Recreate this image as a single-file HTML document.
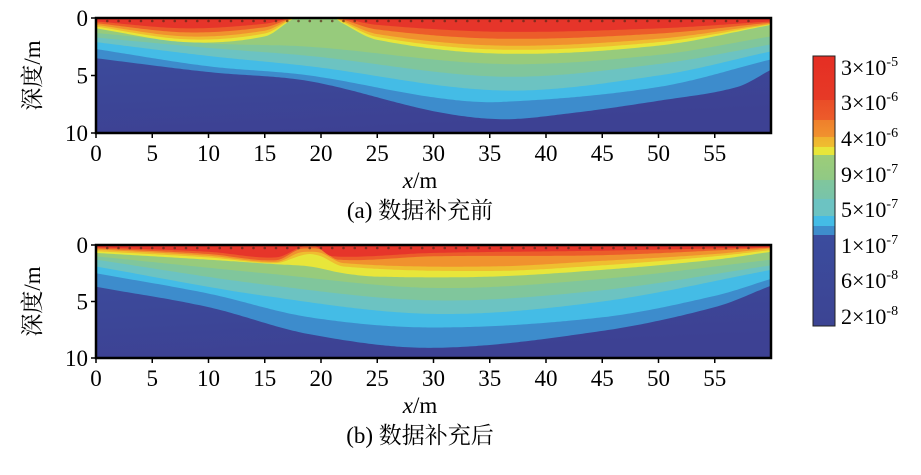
<!DOCTYPE html>
<html><head><meta charset="utf-8">
<style>
body{margin:0;background:#fff;width:921px;height:475px;overflow:hidden;}
svg{display:block}
text{font-family:"Liberation Serif","Noto Serif CJK SC",serif;fill:#000}
</style></head><body>
<svg id="s" width="921" height="475" xmlns="http://www.w3.org/2000/svg">
<defs>
<linearGradient id="cb" x1="0" y1="0" x2="0" y2="1">
<stop offset="0" stop-color="#e52e24"/><stop offset="0.163" stop-color="#e63a26"/>
<stop offset="0.163" stop-color="#ea4d28"/><stop offset="0.237" stop-color="#ec5c2a"/>
<stop offset="0.237" stop-color="#ef7f2c"/><stop offset="0.3" stop-color="#f0922e"/>
<stop offset="0.3" stop-color="#efb22f"/><stop offset="0.337" stop-color="#efbe30"/>
<stop offset="0.337" stop-color="#e8e63a"/><stop offset="0.367" stop-color="#e8e63a"/>
<stop offset="0.367" stop-color="#9dcd78"/><stop offset="0.46" stop-color="#90c985"/>
<stop offset="0.46" stop-color="#80c69c"/><stop offset="0.53" stop-color="#78c4aa"/>
<stop offset="0.53" stop-color="#6cc3c2"/><stop offset="0.593" stop-color="#6cc3c2"/>
<stop offset="0.593" stop-color="#44bce6"/><stop offset="0.63" stop-color="#44bce6"/>
<stop offset="0.63" stop-color="#3e8dcc"/><stop offset="0.663" stop-color="#3e8dcc"/>
<stop offset="0.663" stop-color="#3b4c9e"/><stop offset="1" stop-color="#3c4493"/>
</linearGradient>
<linearGradient id="bg" x1="0" y1="0" x2="0.3" y2="1">
<stop offset="0" stop-color="#3b4f9f"/><stop offset="1" stop-color="#3d4193"/>
</linearGradient>
</defs>
<g id="pa"></g><g id="pb"></g>
<rect x="813" y="56" width="22" height="270" fill="url(#cb)" stroke="#222" stroke-width="1"/>
<g font-size="22">
<text x="841" y="75">3×10<tspan font-size="14" dy="-9">-5</tspan></text>
<text x="841" y="110">3×10<tspan font-size="14" dy="-9">-6</tspan></text>
<text x="841" y="146">4×10<tspan font-size="14" dy="-9">-6</tspan></text>
<text x="841" y="182">9×10<tspan font-size="14" dy="-9">-7</tspan></text>
<text x="841" y="217">5×10<tspan font-size="14" dy="-9">-7</tspan></text>
<text x="841" y="253">1×10<tspan font-size="14" dy="-9">-7</tspan></text>
<text x="841" y="288">6×10<tspan font-size="14" dy="-9">-8</tspan></text>
<text x="841" y="324">2×10<tspan font-size="14" dy="-9">-8</tspan></text>
</g>
</svg>
<script>
var NS="http://www.w3.org/2000/svg";
function el(g,t,a,txt){var e=document.createElementNS(NS,t);for(var k in a)e.setAttribute(k,a[k]);if(txt!==undefined)e.textContent=txt;g.appendChild(e);return e;}
function interp(p,x){
 for(var i=0;i<p.length-1;i++){if(x<=p[i+1][0]){
  var P0=p[Math.max(0,i-1)],P1=p[i],P2=p[i+1],P3=p[Math.min(p.length-1,i+2)];
  var t=(x-P1[0])/(P2[0]-P1[0]);
  var m1=(P2[1]-P0[1])/(P2[0]-P0[0]||1)*(P2[0]-P1[0]);
  var m2=(P3[1]-P1[1])/(P3[0]-P1[0]||1)*(P2[0]-P1[0]);
  if(i==0)m1=P2[1]-P1[1]; if(i==p.length-2)m2=P2[1]-P1[1];
  var t2=t*t,t3=t2*t;
  return (2*t3-3*t2+1)*P1[1]+(t3-2*t2+t)*m1+(-2*t3+3*t2)*P2[1]+(t3-t2)*m2;}}
 return p[p.length-1][1];}
function plot(gid,y0,y1,bands,cap){
 var g=document.getElementById(gid),x0=96,x1=771;
 var sx=function(x){return x0+(x1-x0)*x/60},sy=function(d){return y0+(y1-y0)*d/10};
 el(g,'rect',{x:x0,y:y0,width:x1-x0,height:y1-y0,fill:'url(#bg)'});
 bands.forEach(function(b){
  var d='M'+x0+','+y0+' L'+x1+','+y0;
  for(var x=60;x>=0;x-=0.25){d+=' L'+sx(x).toFixed(1)+','+sy(Math.max(0,interp(b[1],x))).toFixed(1);}
  el(g,'path',{d:d+'Z',fill:b[0]});
 });
 for(var i=0;i<58;i++){var cx=sx(1+i*1);if(cx>x1-4)break;el(g,'circle',{cx:cx,cy:y0+3,r:1.3,fill:'#5a2a1a','fill-opacity':0.7});}
 el(g,'rect',{x:x0,y:y0,width:x1-x0,height:y1-y0,fill:'none',stroke:'#000','stroke-width':2.5});
 for(var v=0;v<=55;v+=5){var X=sx(v);el(g,'line',{x1:X,y1:y1,x2:X,y2:y1+5,stroke:'#000','stroke-width':1.5});el(g,'text',{x:X,y:y1+28,'font-size':23,'text-anchor':'middle'},String(v));}
 [0,5,10].forEach(function(v){var Y=sy(v);el(g,'line',{x1:x0-5,y1:Y,x2:x0,y2:Y,stroke:'#000','stroke-width':1.5});el(g,'text',{x:88,y:Y+8,'font-size':23,'text-anchor':'end'},String(v));});
 var t=el(g,'text',{x:0,y:0,'font-size':23,'text-anchor':'middle',transform:'translate(40,'+((y0+y1)/2)+') rotate(-90)'});t.textContent='深度/m';
 var xl=el(g,'text',{x:420,y:y1+55,'font-size':23,'text-anchor':'middle'});
 el(xl,'tspan',{'font-style':'italic'},'x');el(xl,'tspan',{},'/m');
 el(g,'text',{x:420,y:y1+85,'font-size':23,'text-anchor':'middle'},cap);
}
plot('pa',18,133,[
 ['#3d8ccc',[[0,3.5],[10,4.7],[19,5.5],[30,8.1],[36,8.8],[42,8.3],[50,7.2],[57,6.0],[60,4.5]]],
 ['#44bce6',[[0,2.7],[10,4.2],[19,5.0],[30,6.9],[36,7.3],[50,6.0],[60,3.6]]],
 ['#6cc3c2',[[0,2.1],[10,3.3],[19,4.2],[36,6.3],[50,5.0],[60,2.9]]],
 ['#80c69c',[[0,1.7],[10,2.6],[19,3.3],[36,5.1],[50,4.0],[60,2.3]]],
 ['#97cb7c',[[0,1.3],[10,2.2],[19,2.5],[36,4.0],[50,3.2],[60,1.6]]],
 ['#e8e63a',[[0,0.9],[8,2.1],[15,1.6],[17.3,0.2],[17.8,0],[21.2,0],[21.8,0.4],[25,1.9],[36,3.1],[50,2.4],[60,0.6]]],
 ['#efbe30',[[0,0.75],[8,1.85],[15,1.35],[17.3,0.15],[17.8,0],[21.2,0],[21.8,0.3],[25,1.65],[36,2.75],[50,2.1],[60,0.55]]],
 ['#f0922e',[[0,0.6],[8,1.6],[15,1.1],[17.3,0.1],[17.8,0],[21.2,0],[21.8,0.2],[25,1.4],[36,2.4],[50,1.8],[60,0.5]]],
 ['#ec5c2a',[[0,0.45],[8,1.25],[15,0.8],[17.3,0.05],[17.8,0],[21.2,0],[21.8,0.1],[25,1.0],[36,1.8],[50,1.35],[60,0.4]]],
 ['#e6352a',[[0,0.3],[8,0.9],[15,0.5],[17.5,0],[21.5,0],[25,0.6],[36,1.2],[50,0.9],[60,0.3]]]
],'(a) 数据补充前');
plot('pb',245,358,[
 ['#3d8ccc',[[0,3.7],[10,5.5],[19,7.9],[30,9.1],[45,7.6],[55,5.5],[60,3.6]]],
 ['#44bce6',[[0,2.5],[10,4.3],[19,6.4],[30,7.3],[45,6.4],[55,4.5],[60,3.0]]],
 ['#6cc3c2',[[0,1.9],[15,4.5],[30,6.1],[45,5.0],[60,2.2]]],
 ['#80c69c',[[0,1.3],[15,3.5],[30,4.9],[45,4.0],[60,1.8]]],
 ['#97cb7c',[[0,1.0],[15,2.5],[30,3.8],[45,3.0],[60,1.3]]],
 ['#e8e63a',[[0,0.7],[10,1.3],[16,1.7],[19,1.9],[22,2.5],[25,2.8],[35,2.8],[45,2.2],[55,1.3],[60,0.6]]],
 ['#efbe30',[[0,0.55],[10,1.1],[16,1.6],[18,1.0],[19,0.8],[20,1.0],[22,1.9],[35,2.3],[45,1.8],[55,1.0],[60,0.45]]],
 ['#f0922e',[[0,0.4],[10,0.95],[16,1.5],[18,0.7],[19,0.6],[20,0.7],[22,1.6],[35,1.9],[45,1.4],[55,0.8],[60,0.3]]],
 ['#ec5c2a',[[0,0.3],[10,0.8],[16,1.35],[18,0.4],[19,0.3],[20,0.4],[21.5,1.3],[30,1.0],[45,0.9],[60,0.25]]],
 ['#e6352a',[[0,0.2],[10,0.6],[16,1.1],[18.3,0.15],[19.5,0.1],[21,1.0],[30,0.7],[45,0.5],[60,0.2]]]
],'(b) 数据补充后');
</script>
</body></html>
